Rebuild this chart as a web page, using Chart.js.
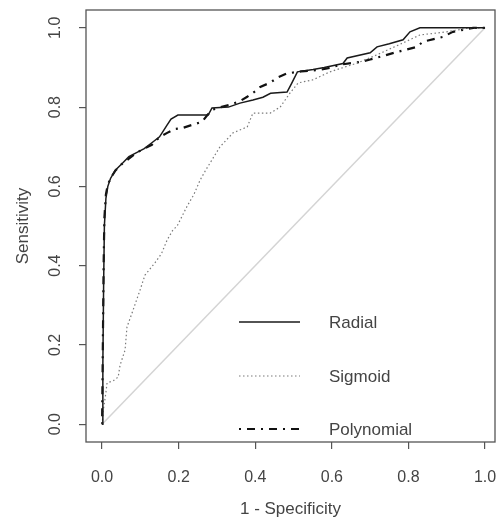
<!DOCTYPE html>
<html lang="en">
<head>
<meta charset="UTF-8">
<title>ROC curves</title>
<style>
  body { margin: 0; background: #fff; }
  #wrap { position: relative; width: 500px; height: 520px; }
</style>
</head>
<body>
<div id="wrap"><canvas id="roc"></canvas></div>
<script src="https://cdn.jsdelivr.net/npm/chart.js@4.4.0/dist/chart.umd.min.js"></script>
<script>
    // values
    const seriesNames = ["Radial", "Sigmoid", "Polynomial"];

    const radialX = [0, 0.002, 0.004, 0.006, 0.010, 0.015, 0.022, 0.034, 0.055, 0.070, 0.090, 0.110, 0.130, 0.150, 0.160, 0.170, 0.180, 0.198, 0.277, 0.287, 0.330, 0.360, 0.394, 0.420, 0.440, 0.483, 0.495, 0.510, 0.551, 0.580, 0.629, 0.640, 0.700, 0.718, 0.750, 0.786, 0.804, 0.830, 1.0];
    const radialY = [0, 0.150, 0.350, 0.500, 0.570, 0.600, 0.620, 0.640, 0.660, 0.675, 0.685, 0.695, 0.710, 0.725, 0.740, 0.755, 0.770, 0.780, 0.780, 0.798, 0.800, 0.810, 0.818, 0.825, 0.835, 0.838, 0.860, 0.889, 0.895, 0.900, 0.910, 0.924, 0.937, 0.952, 0.960, 0.970, 0.990, 1.0, 1.0];

    const sigmoidX = [0, 0.004, 0.010, 0.013, 0.030, 0.042, 0.047, 0.060, 0.065, 0.081, 0.099, 0.112, 0.138, 0.155, 0.170, 0.185, 0.196, 0.222, 0.240, 0.256, 0.270, 0.282, 0.308, 0.342, 0.379, 0.394, 0.439, 0.465, 0.491, 0.512, 0.551, 0.595, 0.666, 0.718, 0.786, 0.830, 0.900, 0.960, 1.0];
    const sigmoidY = [0, 0.040, 0.080, 0.104, 0.110, 0.119, 0.149, 0.187, 0.245, 0.288, 0.338, 0.376, 0.407, 0.430, 0.465, 0.490, 0.500, 0.550, 0.580, 0.616, 0.640, 0.659, 0.700, 0.735, 0.750, 0.785, 0.785, 0.800, 0.836, 0.861, 0.869, 0.889, 0.911, 0.932, 0.962, 0.982, 0.990, 1.0, 1.0];

    const polyX = [0, 0.002, 0.004, 0.006, 0.010, 0.015, 0.025, 0.035, 0.050, 0.070, 0.090, 0.110, 0.130, 0.151, 0.170, 0.190, 0.209, 0.235, 0.261, 0.275, 0.287, 0.310, 0.334, 0.360, 0.379, 0.400, 0.413, 0.440, 0.457, 0.483, 0.520, 0.569, 0.600, 0.621, 0.674, 0.700, 0.726, 0.770, 0.822, 0.838, 0.890, 0.916, 0.969, 1.0];
    const polyY = [0, 0.200, 0.400, 0.520, 0.580, 0.605, 0.625, 0.640, 0.655, 0.670, 0.685, 0.695, 0.705, 0.725, 0.735, 0.745, 0.747, 0.755, 0.763, 0.780, 0.793, 0.800, 0.806, 0.815, 0.826, 0.840, 0.851, 0.862, 0.874, 0.885, 0.890, 0.894, 0.900, 0.907, 0.914, 0.920, 0.927, 0.939, 0.952, 0.965, 0.977, 0.990, 1.0, 1.0];

    const refX = [0, 1];
    const refY = [0, 1];

    const tickValues = [0, 0.2, 0.4, 0.6, 0.8, 1.0];
    const tickLabels = ["0.0", "0.2", "0.4", "0.6", "0.8", "1.0"];
    const xTitle = "1 - Specificity";
    const yTitle = "Sensitivity";

    const FONT = "'Liberation Sans', Arial, sans-serif";
    const TEXT = "#444";
    const AXIS = "#555";

    const pts = (xs, ys) => xs.map((x, i) => ({x: x, y: ys[i]}));

    // box round the plot region, like base R graphics
    const frame = {
        id: "frame",
        afterDraw(chart) {
            const {ctx, chartArea: a} = chart;
            ctx.save();
            ctx.strokeStyle = AXIS;
            ctx.lineWidth = 1.3;
            ctx.strokeRect(a.left, a.top, a.right - a.left, a.bottom - a.top);
            ctx.restore();
        }
    };

    // y tick labels run parallel to the axis
    const yLabels = {
        id: "yLabels",
        afterDraw(chart, args, opts) {
            const ctx = chart.ctx;
            const y = chart.scales.y;
            ctx.save();
            ctx.fillStyle = TEXT;
            ctx.font = "16px " + FONT;
            ctx.textAlign = "center";
            ctx.textBaseline = "middle";
            tickValues.forEach((v, i) => {
                ctx.save();
                ctx.translate(opts.x, y.getPixelForValue(v));
                ctx.rotate(-Math.PI / 2);
                ctx.fillText(tickLabels[i], 0, 0);
                ctx.restore();
            });
            ctx.restore();
        }
    };

    // legend without a box, inside the plot
    const legendBox = {
        id: "legendBox",
        afterDraw(chart, args, opts) {
            const ctx = chart.ctx;
            seriesNames.forEach((name, i) => {
                const ds = chart.data.datasets[i];
                const y = opts.rows[i];
                ctx.save();
                ctx.strokeStyle = ds.borderColor;
                ctx.lineWidth = ds.borderWidth;
                ctx.setLineDash(ds.borderDash || []);
                ctx.beginPath();
                ctx.moveTo(opts.lineFrom, y);
                ctx.lineTo(opts.lineTo, y);
                ctx.stroke();
                ctx.setLineDash([]);
                ctx.fillStyle = TEXT;
                ctx.font = "17px " + FONT;
                ctx.textBaseline = "middle";
                ctx.fillText(name, opts.textX, y + 1);
                ctx.restore();
            });
        }
    };

    const setTicks = scale => {
        scale.ticks = tickValues.map(v => ({value: v}));
    };

    new Chart("roc", {
        type: "line",
        data: {
            datasets: [{
                label: seriesNames[0],
                data: pts(radialX, radialY),
                borderColor: "#1a1a1a",
                borderWidth: 1.5
            }, {
                label: seriesNames[1],
                data: pts(sigmoidX, sigmoidY),
                borderColor: "#7a7a7a",
                borderWidth: 1.2,
                borderDash: [1.5, 2.5]
            }, {
                label: seriesNames[2],
                data: pts(polyX, polyY),
                borderColor: "#111",
                borderWidth: 2.2,
                borderDash: [2, 6, 8, 6]
            }, {
                label: "reference",
                data: pts(refX, refY),
                borderColor: "#d4d4d4",
                borderWidth: 1.5
            }]
        },
        options: {
            responsive: true,
            maintainAspectRatio: false,
            animation: false,
            elements: {
                point: {radius: 0},
                line: {tension: 0, fill: false}
            },
            layout: {
                padding: {top: 10, right: 5, left: 0, bottom: 0}
            },
            plugins: {
                legend: {display: false},
                tooltip: {enabled: false},
                legendBox: {lineFrom: 239, lineTo: 300, textX: 329, rows: [322, 376, 429]},
                yLabels: {x: 56}
            },
            scales: {
                x: {
                    type: "linear",
                    min: -0.042,
                    max: 1.026,
                    afterBuildTicks: setTicks,
                    afterFit: s => {
                        s.height = 78;
                        s.paddingLeft = 0;
                        s.paddingRight = 0;
                    },
                    border: {display: false},
                    grid: {
                        drawOnChartArea: false,
                        drawTicks: true,
                        tickLength: 7,
                        color: AXIS,
                        lineWidth: 1.2
                    },
                    ticks: {
                        autoSkip: false,
                        maxRotation: 0,
                        padding: 19,
                        color: TEXT,
                        font: {family: FONT, size: 16},
                        callback: v => tickLabels[tickValues.indexOf(v)]
                    },
                    title: {
                        display: true,
                        text: xTitle,
                        color: TEXT,
                        font: {family: FONT, size: 17},
                        padding: {top: 0, bottom: 0}
                    }
                },
                y: {
                    type: "linear",
                    min: -0.045,
                    max: 1.045,
                    afterBuildTicks: setTicks,
                    afterFit: s => {
                        s.width = 86;
                        s.paddingTop = 0;
                        s.paddingBottom = 0;
                    },
                    border: {display: false},
                    grid: {
                        drawOnChartArea: false,
                        drawTicks: true,
                        tickLength: 7,
                        color: AXIS,
                        lineWidth: 1.2
                    },
                    ticks: {display: false},
                    title: {
                        display: true,
                        text: yTitle,
                        color: TEXT,
                        font: {family: FONT, size: 17},
                        padding: {top: 13, bottom: 0}
                    }
                }
            }
        },
        plugins: [frame, yLabels, legendBox]
    });
</script>
</body>
</html>
